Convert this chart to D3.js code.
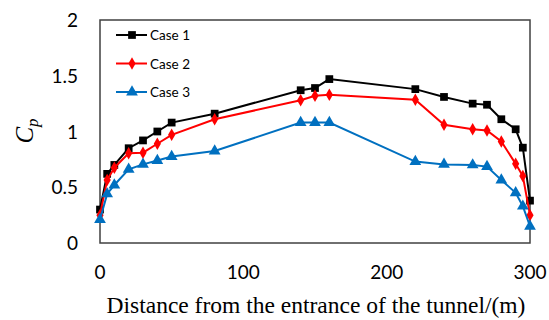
<!DOCTYPE html>
<html><head><meta charset="utf-8">
<script src="https://cdn.jsdelivr.net/npm/d3@7"></script>
<style>body{margin:0;background:#fff}svg{display:block}</style>
</head><body>
<svg id="c" width="549" height="320"></svg>
<script>
const distances = [0, 5, 10, 20, 30, 40, 50, 80, 140, 150, 160, 220, 240, 260, 270, 280, 290, 295, 300];
const case1 = [0.30, 0.62, 0.70, 0.85, 0.92, 1.00, 1.08, 1.16, 1.37, 1.39, 1.47, 1.38, 1.31, 1.25, 1.24, 1.11, 1.02, 0.855, 0.38];
const case2 = [0.25, 0.565, 0.675, 0.805, 0.81, 0.89, 0.97, 1.11, 1.28, 1.32, 1.33, 1.285, 1.06, 1.02, 1.01, 0.91, 0.71, 0.60, 0.25];
const case3 = [0.21, 0.44, 0.52, 0.66, 0.705, 0.74, 0.775, 0.825, 1.08, 1.08, 1.08, 0.73, 0.705, 0.70, 0.685, 0.565, 0.45, 0.33, 0.15];
const seriesNames = ["Case 1", "Case 2", "Case 3"];
const xTicks = [0, 100, 200, 300];
const yTicks = [0, 0.5, 1, 1.5, 2];

const series = [
  {name: seriesNames[0], values: case1, color: "#000000", sym: d3.symbolSquare, size: 60},
  {name: seriesNames[1], values: case2, color: "#ff0000", sym: d3.symbolDiamond, size: 45},
  {name: seriesNames[2], values: case3, color: "#0070c0", sym: d3.symbolTriangle, size: 60}
];

const svg = d3.select("#c");
const L = 100, R = 530, T = 20, B = 243;
const x = d3.scaleLinear().domain([0, 300]).range([L, R]);
const y = d3.scaleLinear().domain([0, 2]).range([B, T]);

const font = "Lato, 'Open Sans', sans-serif";

// tick labels
svg.append("g").selectAll("text").data(yTicks).join("text")
  .attr("x", 78).attr("y", d => y(d) + 7)
  .attr("text-anchor", "end").attr("font-family", font).attr("font-size", 19).attr("fill", "#000")
  .text(d => d);
svg.append("g").selectAll("text").data(xTicks).join("text")
  .attr("x", d => x(d)).attr("y", 279)
  .attr("text-anchor", "middle").attr("font-family", font).attr("font-size", 19).attr("fill", "#000")
  .text(d => d);

// frame
svg.append("rect").attr("x", L).attr("y", T).attr("width", R - L).attr("height", B - T)
  .attr("fill", "none").attr("stroke", "#404040").attr("stroke-width", 1.5);

const line = d3.line().x((d, i) => x(distances[i])).y(d => y(d));
series.forEach(s => {
  svg.append("path").datum(s.values).attr("d", line)
    .attr("fill", "none").attr("stroke", s.color).attr("stroke-width", 2);
  svg.append("g").selectAll("path").data(s.values).join("path")
    .attr("transform", (d, i) => `translate(${x(distances[i])},${y(d)})`)
    .attr("d", d3.symbol().type(s.sym).size(s.size)).attr("fill", s.color);
});

// legend
const lg = svg.append("g");
series.forEach((s, i) => {
  const ly = 35 + i * 28.5;
  lg.append("line").attr("x1", 116).attr("x2", 147).attr("y1", ly).attr("y2", ly)
    .attr("stroke", s.color).attr("stroke-width", 2);
  lg.append("path").attr("transform", `translate(132,${ly})`)
    .attr("d", d3.symbol().type(s.sym).size(s.size)).attr("fill", s.color);
  lg.append("text").attr("x", 150).attr("y", ly + 5).attr("font-family", font).attr("font-size", 13.5)
    .attr("fill", "#000").text(s.name);
});

// axis titles
svg.append("text").attr("x", 316).attr("y", 313).attr("text-anchor", "middle")
  .attr("font-family", "'Liberation Serif', 'Times New Roman', serif").attr("font-size", 23.5)
  .attr("fill", "#000").text("Distance from the entrance of the tunnel/(m)");
const yt = svg.append("text").attr("transform", "translate(33,131) rotate(-90)")
  .attr("text-anchor", "middle").attr("font-family", "'Liberation Serif', 'Times New Roman', serif")
  .attr("font-size", 25).attr("font-style", "italic").attr("fill", "#000");
yt.append("tspan").text("C");
yt.append("tspan").attr("font-size", 17).attr("dy", 5).text("p");
</script>
</body></html>
